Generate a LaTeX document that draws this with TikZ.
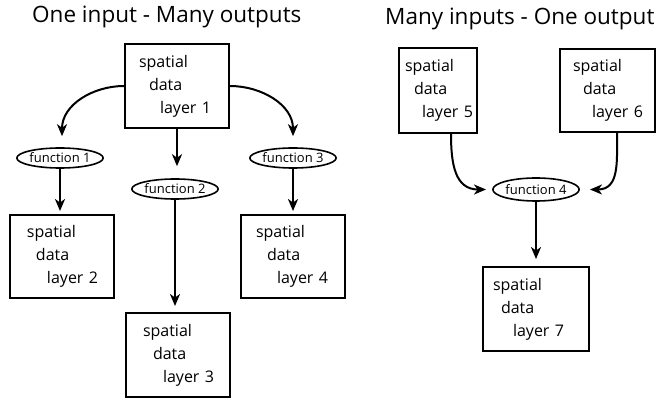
\documentclass[tikz,border=0pt]{standalone}
\usepackage{fontspec}
\setmainfont{Open Sans}
\usetikzlibrary{shapes.geometric,arrows.meta}
\begin{document}
\begin{tikzpicture}[x=1pt,y=1pt,
  layerbox/.style={draw, line width=1.9pt, align=left, inner ysep=0pt,
    font=\fontsize{16}{23}\selectfont},
  func/.style={draw, ellipse, line width=1.6pt, inner sep=0pt,
    minimum width=75pt, minimum height=20pt, font=\fontsize{13}{14}\selectfont},
  flow/.style={line width=2pt, -{Stealth[length=12pt,width=10pt,inset=3.5pt]}},
  heading/.style={anchor=base west, inner sep=0pt, font=\fontsize{22.5}{26}\selectfont}]
\useasboundingbox (0,0) rectangle (669,399);

% headings
\node[heading] (t1) at (32,376) {One input - Many outputs};
\node[heading] (t2) at (385,374) {Many inputs - One output};

% one input, many outputs
\node[layerbox, minimum width=104pt, minimum height=84pt, text width=76pt, inner xsep=14pt]
  (b1) at (177,313) {spatial\\\hspace*{10pt}data\\\hspace*{21pt}layer~1};
\node[layerbox, minimum width=104pt, minimum height=83pt, text width=70pt, inner xsep=17pt]
  (b2) at (62,142.5) {spatial\\\hspace*{9pt}data\\\hspace*{20pt}layer~2};
\node[layerbox, minimum width=104pt, minimum height=84pt, text width=70pt, inner xsep=17pt]
  (b3) at (178,44) {spatial\\\hspace*{10pt}data\\\hspace*{20pt}layer~3};
\node[layerbox, minimum width=104pt, minimum height=83pt, text width=74pt, inner xsep=15pt]
  (b4) at (293,142.5) {spatial\\\hspace*{11pt}data\\\hspace*{21pt}layer~4};

\node[func] (f1) at (60,241) {function 1};
\node[func] (f2) at (175,210) {function 2};
\node[func] (f3) at (293,241) {function 3};

\draw[flow] (b1.west) to[out=180,in=90] ([xshift=2pt,yshift=11pt]f1.north);
\draw[flow] (b1.east) to[out=0,in=90] ([yshift=11pt]f3.north);
\draw[flow] (b1.south) -- ([yshift=12pt]b1.south |- f2.north);
\draw[flow] (f1.south) -- ([yshift=3pt]f1.south |- b2.north);
\draw[flow] (f2.south) -- ([yshift=6pt]f2.south |- b3.north);
\draw[flow] (f3.south) -- ([yshift=3pt]f3.south |- b4.north);

% many inputs, one output
\node[layerbox, minimum width=78pt, minimum height=85pt, text width=66pt, inner xsep=6pt]
  (b5) at (438,308.5) {spatial\\\hspace*{9pt}data\\\hspace*{17pt}layer~5};
\node[layerbox, minimum width=95pt, minimum height=83pt, text width=69pt, inner xsep=13pt]
  (b6) at (607.5,308.5) {spatial\\\hspace*{10pt}data\\\hspace*{19pt}layer~6};
\node[layerbox, minimum width=106pt, minimum height=84pt, text width=86pt, inner xsep=10pt]
  (b7) at (536,90) {spatial\\\hspace*{8pt}data\\\hspace*{20pt}layer~7};

\node[func, minimum width=78pt, minimum height=23pt] (f4) at (536,209.5) {function 4};

\draw[flow] ([xshift=13pt]b5.south) to[out=-90,in=180,looseness=1.2] ([xshift=-6pt]f4.west);
\draw[flow] ([xshift=9.5pt]b6.south) to[out=-90,in=0,looseness=1.2] ([xshift=10pt]f4.east);
\draw[flow] (f4.south) -- ([yshift=7pt]f4.south |- b7.north);
\end{tikzpicture}
\end{document}
